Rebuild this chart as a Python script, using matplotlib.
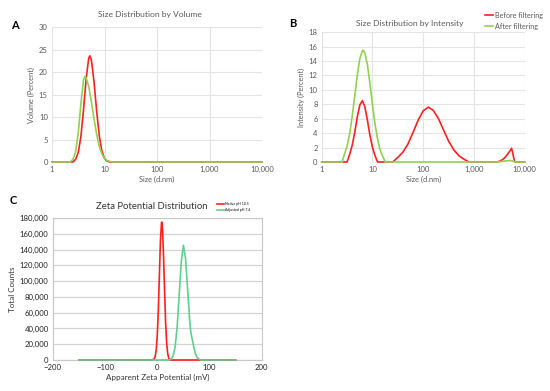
import matplotlib

matplotlib.use("Agg")
import matplotlib.pyplot as plt
from matplotlib.ticker import FuncFormatter, FixedLocator

# ---- A: size distribution by volume ----
vol_red_size = [1, 2.51, 2.82, 3.16, 3.55, 3.98, 4.47, 5.01, 5.25, 5.62, 6.31, 7.08, 7.94,
                8.91, 10.0, 11.2, 12.6, 10000]
vol_red = [0, 0, 0.6, 2.1, 5.6, 11.5, 18.5, 23.1, 23.6, 22.7, 17.9, 11.4, 5.9,
           2.4, 0.8, 0.2, 0, 0]
vol_green_size = [1, 2.24, 2.51, 2.82, 3.16, 3.55, 3.98, 4.22, 4.47, 5.01, 5.62, 6.31, 7.08,
                  7.94, 8.91, 10.0, 11.2, 12.6, 14.1, 10000]
vol_green = [0, 0, 0.6, 2.3, 6.4, 12.9, 18.2, 19.0, 18.7, 16.8, 13.4, 9.6, 6.2,
             3.5, 1.8, 0.8, 0.35, 0.13, 0, 0]

# ---- B: size distribution by intensity ----
int_red_size = [1, 3.16, 3.55, 3.98, 4.47, 5.01, 5.62, 6.31, 7.08, 7.94, 8.91, 10.0, 11.2, 12.6,
                25.1, 31.6, 39.8, 50.1, 63.1, 79.4, 100, 126, 158, 200, 251, 316, 398, 501,
                631, 794,
                2800, 3200, 3600, 4070, 4730, 5200, 5500, 5800, 6100, 6400, 10000]
int_red = [0, 0, 1.06, 2.3, 4.1, 6.2, 7.9, 8.5, 7.65, 5.8, 3.7, 2.0, 0.9, 0,
           0, 0.64, 1.37, 2.5, 4.1, 5.8, 7.1, 7.6, 7.15, 6.0, 4.45, 2.9, 1.7, 0.9,
           0.4, 0,
           0, 0.1, 0.3, 0.6, 1.2, 1.6, 1.9, 1.3, 0.5, 0, 0]
int_green_size = [1, 2.51, 2.82, 3.16, 3.55, 3.98, 4.47, 5.01, 5.62, 6.31, 6.53, 7.08, 7.94,
                  8.91, 10.0, 11.2, 12.6, 14.1, 15.8, 17.8,
                  2800, 3600, 4500, 5300, 6000, 6400, 10000]
int_green = [0, 0, 1.15, 2.2, 3.9, 6.3, 9.1, 12.0, 14.3, 15.4, 15.5, 15.1, 13.5,
             10.9, 7.9, 5.3, 3.2, 1.7, 0.85, 0,
             0, 0.08, 0.18, 0.2, 0.1, 0, 0]

# ---- C: zeta potential ----
zeta_red_mv = [-150, -10, -6, -4, -2, 0, 2, 4, 6, 8, 8.5, 10, 12, 14, 16, 18, 20, 22, 24, 150]
zeta_red = [0, 0, 1200, 4400, 13000, 31700, 64000, 108000, 151000, 174000, 175000,
            166000, 131000, 86000, 46000, 21000, 7700, 2400, 0, 0]
zeta_green_mv = [-150, 22, 26, 30, 34, 38, 42, 46, 50, 54, 58, 62, 64, 66, 68, 70, 73, 76,
                 80, 84, 150]
zeta_green = [0, 0, 1000, 4500, 16000, 42000, 84000, 126000, 145500, 129000, 90000,
              50000, 36000, 29000, 23000, 16000, 8000, 3500, 1000, 0, 0]

size_ticks = [1, 10, 100, 1000, 10000]
RED = "#ff1f1f"
LGREEN = "#92d050"
MGREEN = "#5fcf8f"
TXT = "#595959"
GRID = "#e3e3e3"

plt.rcParams["font.family"] = ["Lato", "DejaVu Sans"]
plt.rcParams["lines.solid_joinstyle"] = "round"

fig = plt.figure(figsize=(5.5, 3.91), dpi=100)
fig.patch.set_facecolor("white")

comma = FuncFormatter(lambda v, p: f"{v:,.0f}")


def size_axes(ax, ymax, ystep, ylabel):
    ax.set_xscale("log")
    ax.set_xlim(1, 10000)
    ax.set_ylim(0, ymax)
    ax.xaxis.set_major_locator(FixedLocator(size_ticks))
    ax.xaxis.set_major_formatter(comma)
    ax.xaxis.set_minor_locator(FixedLocator([]))
    ax.set_yticks(range(0, ymax + 1, ystep))
    ax.grid(True, color=GRID, lw=0.8)
    ax.set_axisbelow(True)
    for s in ax.spines.values():
        s.set_visible(False)
    ax.tick_params(length=0, labelsize=5.5, colors=TXT, pad=3)
    ax.set_xlabel("Size (d.nm)", fontsize=5.3, color=TXT, labelpad=2)
    ax.set_ylabel(ylabel, fontsize=5.3, color=TXT, labelpad=3)


axA = fig.add_axes([0.0945, 0.5857, 0.382, 0.345])
axA.plot(vol_red_size, vol_red, color=RED, lw=1.2, clip_on=False, zorder=3)
axA.plot(vol_green_size, vol_green, color=LGREEN, lw=1.2, clip_on=False, zorder=3)
size_axes(axA, 30, 5, "Volume (Percent)")
fig.text(0.273, 0.962, "Size Distribution by Volume", ha="center", va="center",
         fontsize=6.1, color=TXT)
fig.text(0.027, 0.936, "A", fontsize=8, fontweight="bold", ha="center", va="center")

axB = fig.add_axes([0.585, 0.5857, 0.369, 0.332])
axB.plot(int_red_size, int_red, color=RED, lw=1.2, label="Before filtering",
         clip_on=False, zorder=3)
axB.plot(int_green_size, int_green, color=LGREEN, lw=1.2, label="After filtering",
         clip_on=False, zorder=3)
size_axes(axB, 18, 2, "Intensity (Percent)")
fig.text(0.745, 0.941, "Size Distribution by Intensity", ha="center", va="center",
         fontsize=6.1, color=TXT)
fig.text(0.533, 0.939, "B", fontsize=8, fontweight="bold", ha="center", va="center")
axB.legend(loc="upper left", bbox_to_anchor=(0.872, 0.985), bbox_transform=fig.transFigure,
           frameon=False, fontsize=5.2, handlelength=1.1, handletextpad=0.2,
           labelspacing=0.6, labelcolor=TXT, borderpad=0.3)

axC = fig.add_axes([0.096, 0.0793, 0.380, 0.363])
axC.plot(zeta_red_mv, zeta_red, color=RED, lw=1.2, label="Native pH 10.5",
         clip_on=False, zorder=3)
axC.plot(zeta_green_mv, zeta_green, color=MGREEN, lw=1.2, label="Adjusted pH 7.4",
         clip_on=False, zorder=3)
axC.set_xlim(-200, 200)
axC.set_ylim(0, 180000)
axC.set_xticks([-200, -100, 0, 100, 200])
axC.set_yticks(range(0, 180001, 20000))
axC.yaxis.set_major_formatter(comma)
axC.grid(True, axis="y", color="#d4d4d4", lw=0.9)
axC.set_axisbelow(True)
for s in axC.spines.values():
    s.set_color("#c8c8c8")
    s.set_linewidth(0.8)
axC.tick_params(length=0, labelsize=5.6, colors="#222222", pad=3)
axC.set_xlabel("Apparent Zeta Potential (mV)", fontsize=5.8, color="#333333", labelpad=2)
axC.set_ylabel("Total Counts", fontsize=5.8, color="#333333", labelpad=3)
fig.text(0.275, 0.471, "Zeta Potential Distribution", ha="center", va="center",
         fontsize=6.8, color="#333333")
fig.text(0.024, 0.488, "C", fontsize=8, fontweight="bold", ha="center", va="center")
axC.legend(loc="upper left", bbox_to_anchor=(0.39, 0.488), bbox_transform=fig.transFigure,
           frameon=False, fontsize=2.5, handlelength=2.2, handletextpad=0.3,
           labelspacing=0.6, borderpad=0.1)

fig.savefig("out.png", dpi=100)
